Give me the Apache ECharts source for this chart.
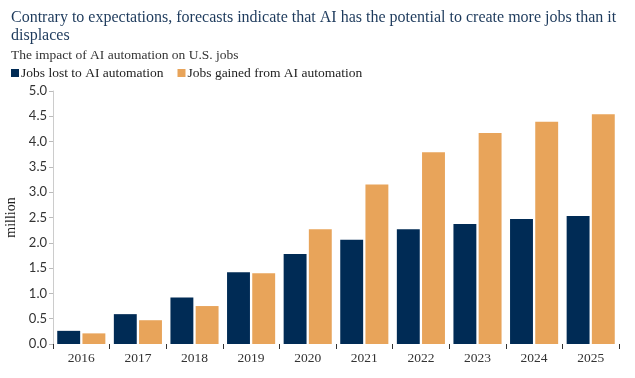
<!DOCTYPE html>
<html><head><meta charset="utf-8">
<script src="https://cdn.jsdelivr.net/npm/echarts@6/dist/echarts.min.js"></script>
<style>html,body{margin:0;padding:0;background:#fff}#c{width:635px;height:378px}</style>
</head><body><div id="c"></div>
<script>
const years = ['2016','2017','2018','2019','2020','2021','2022','2023','2024','2025'];
const jobsLost = [0.26,0.59,0.92,1.42,1.78,2.06,2.27,2.37,2.47,2.53];
const jobsGained = [0.21,0.47,0.75,1.40,2.27,3.15,3.79,4.17,4.39,4.54];
const seriesNames = ['Jobs lost to AI automation','Jobs gained from AI automation'];
const colors = ['#002b55','#e8a45a'];

const chart = echarts.init(document.getElementById('c'));
chart.setOption({
  animation:false,
  title:[
    {text:'Contrary to expectations, forecasts indicate that AI has the potential to create more jobs than it\ndisplaces',
     left:6, top:4,
     textStyle:{fontFamily:'Liberation Serif',fontSize:16,fontWeight:'normal',color:'#1d3a5c',lineHeight:18}},
    {text:'The impact of AI automation on U.S. jobs', left:6, top:43,
     textStyle:{fontFamily:'Liberation Serif',fontSize:13.5,fontWeight:'normal',color:'#333',lineHeight:15}}
  ],
  legend:{left:6, top:61, itemWidth:8, itemHeight:8, itemGap:14, icon:'rect',
    textStyle:{fontFamily:'Liberation Serif',fontSize:13.5,color:'#222',padding:[0,0,0,-3]},
    data:seriesNames},
  grid:{left:53, right:16, top:91, bottom:34, outerBoundsMode:'none', containLabel:false},
  xAxis:{type:'category', data:years,
    axisLine:{show:false},
    axisTick:{show:true, alignWithLabel:false, length:5, lineStyle:{color:'#333'}},
    axisLabel:{fontFamily:'Liberation Serif', fontSize:13.5, color:'#333', margin:7}},
  yAxis:{type:'value', min:0, max:5, interval:0.5,
    name:'million', nameLocation:'middle', nameGap:31, nameRotate:90,
    nameTextStyle:{fontFamily:'Liberation Serif', fontSize:14, color:'#222'},
    axisLine:{show:true, lineStyle:{color:'#ccc'}},
    axisTick:{show:true, length:4, lineStyle:{color:'#bbb'}},
    splitLine:{show:false},
    axisLabel:{fontFamily:'Lato', fontSize:13, color:'#333', margin:6,
      formatter:v=>v.toFixed(1)}},
  series:[
    {name:seriesNames[0], type:'bar', data:jobsLost, barGap:'10%', barCategoryGap:'15%',
     itemStyle:{color:colors[0]}},
    {name:seriesNames[1], type:'bar', data:jobsGained,
     itemStyle:{color:colors[1]}}
  ]
});
</script></body></html>
